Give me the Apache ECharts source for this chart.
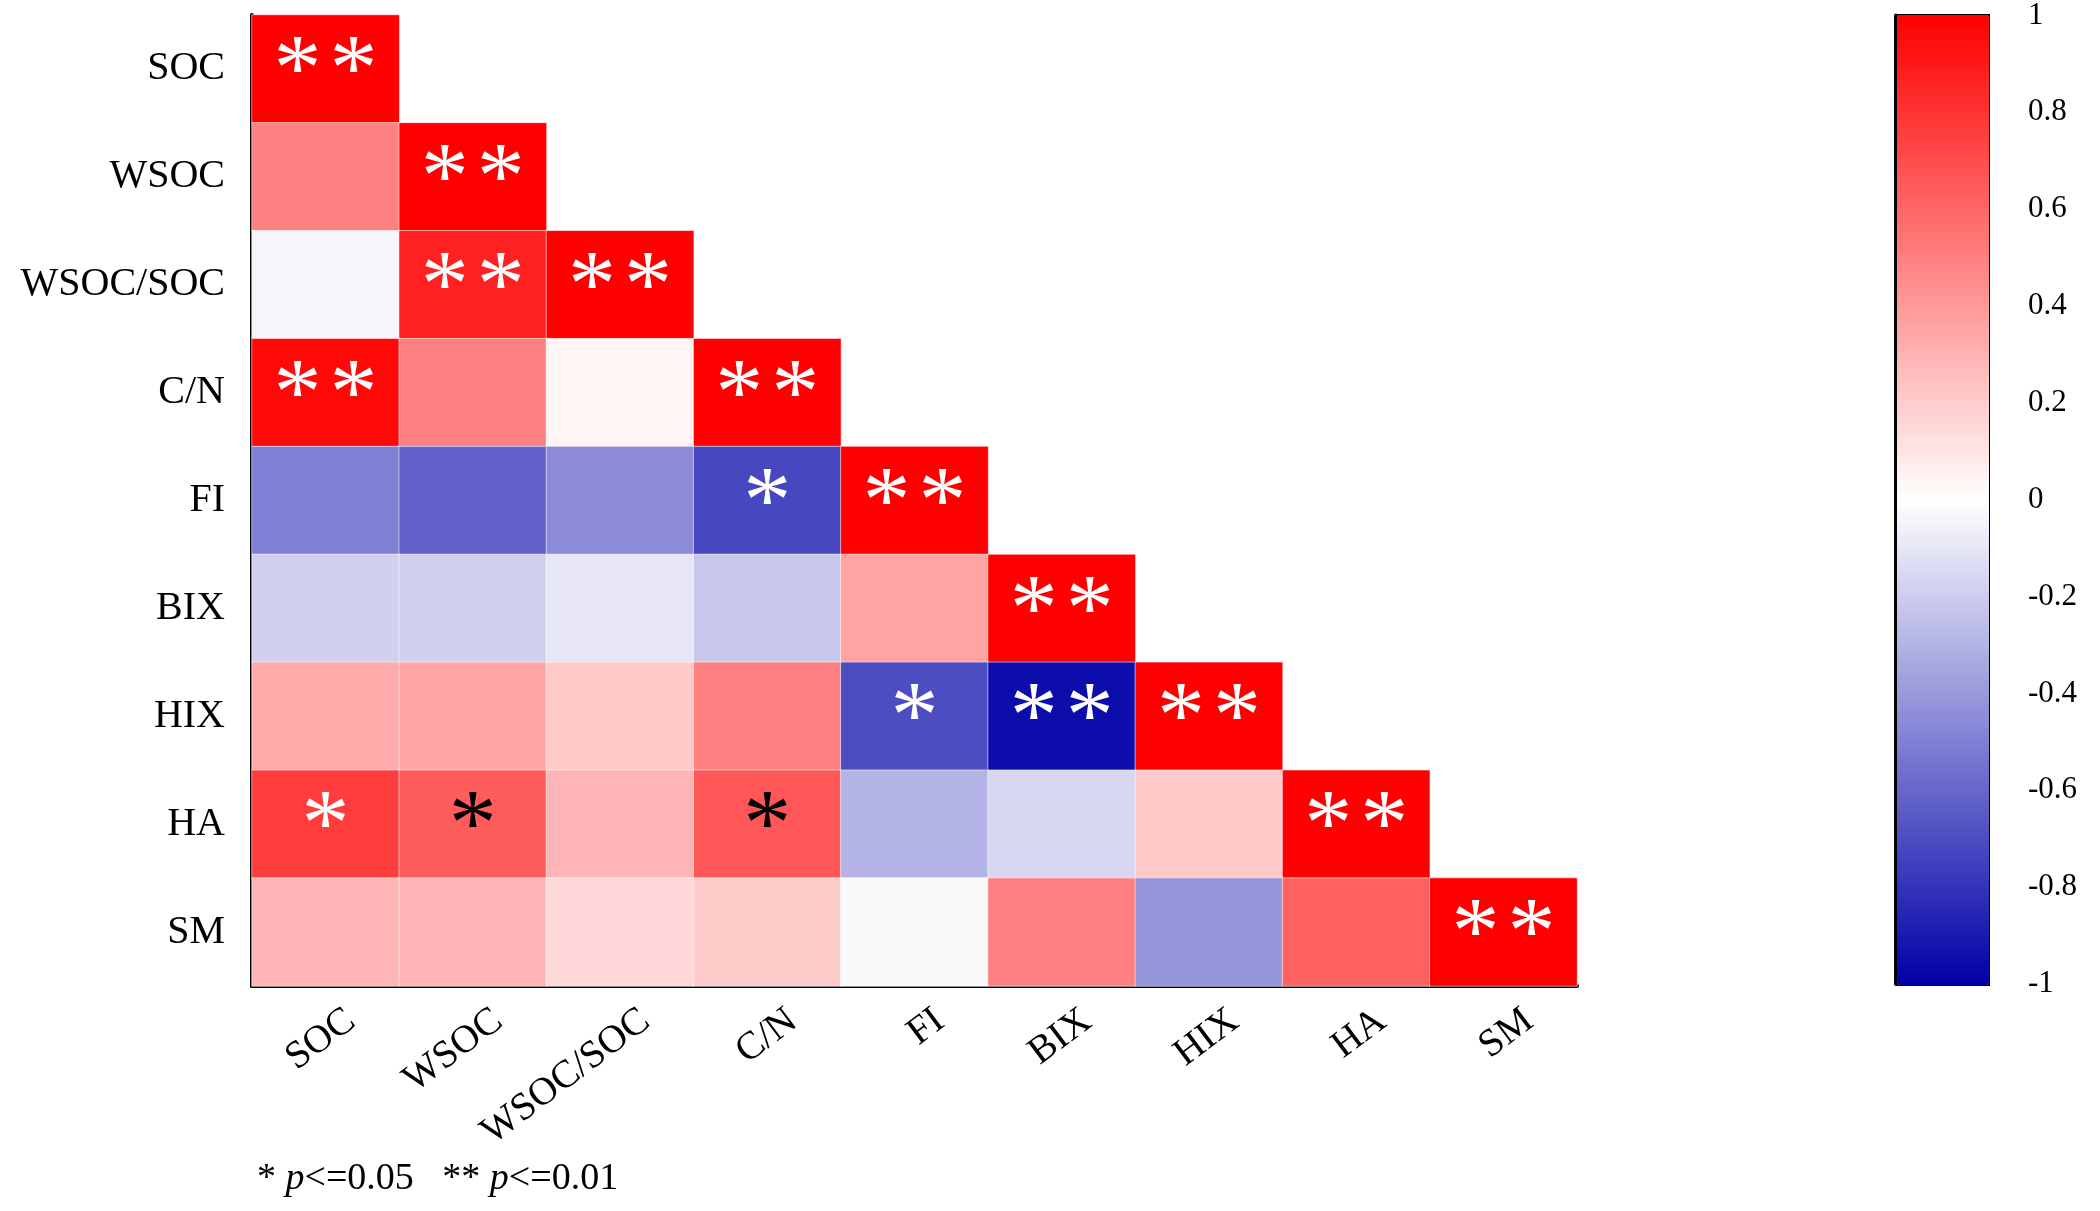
<!DOCTYPE html>
<html><head><meta charset="utf-8">
<script src="https://cdn.jsdelivr.net/npm/echarts@6/dist/echarts.min.js"></script>
<style>html,body{margin:0;padding:0;background:#fff}#c{width:2100px;height:1211px}</style>
</head><body><div id="c"></div>
<script>
const labels = ['SOC','WSOC','WSOC/SOC','C/N','FI','BIX','HIX','HA','SM'];
// lower-triangle correlation rows (row i has i+1 values)
const rSOC   = [1];
const rWSOC  = [0.50, 1];
const rRatio = [-0.04, 0.87, 1];
const rCN    = [0.97, 0.50, 0.04, 1];
const rFI    = [-0.50, -0.62, -0.45, -0.72, 1];
const rBIX   = [-0.18, -0.19, -0.10, -0.22, 0.36, 1];
const rHIX   = [0.33, 0.35, 0.21, 0.50, -0.70, -0.95, 1];
const rHA    = [0.76, 0.64, 0.29, 0.66, -0.30, -0.16, 0.21, 1];
const rSM    = [0.29, 0.29, 0.15, 0.20, -0.02, 0.50, -0.42, 0.62, 1];
const corrRows = [rSOC, rWSOC, rRatio, rCN, rFI, rBIX, rHIX, rHA, rSM];
// significance marks
const sSOC   = ['**'];
const sWSOC  = ['', '**'];
const sRatio = ['', '**', '**'];
const sCN    = ['**', '', '', '**'];
const sFI    = ['', '', '', '*', '**'];
const sBIX   = ['', '', '', '', '', '**'];
const sHIX   = ['', '', '', '', '*', '**', '**'];
const sHA    = ['*', '*', '', '*', '', '', '', '**'];
const sSM    = ['', '', '', '', '', '', '', '', '**'];
const sigRows = [sSOC, sWSOC, sRatio, sCN, sFI, sBIX, sHIX, sHA, sSM];
// mark colour: cells whose asterisk is drawn in black
const blackMarks = [[7, 1], [7, 3]];

const data = [];
corrRows.forEach((row, i) => {
  row.forEach((v, j) => {
    const s = sigRows[i][j];
    const dark = blackMarks.some(m => m[0] === i && m[1] === j);
    data.push({
      value: [j, i, v, s],
      label: { color: dark ? '#000' : '#fff' }
    });
  });
});

const serif = '"Liberation Serif", "Times New Roman", serif';
const chart = echarts.init(document.getElementById('c'));
chart.setOption({
  animation: false,
  backgroundColor: '#fff',
  grid: [
    { left: 252, top: 15, width: 1325, height: 971 },
    { left: 1896, top: 14, width: 92, height: 970 }
  ],
  xAxis: [
    { type: 'category', data: labels, gridIndex: 0,
      axisLine: { lineStyle: { color: '#000', width: 4 } },
      axisTick: { show: false },
      axisLabel: { rotate: 37, fontFamily: serif, fontSize: 39, color: '#000', margin: 50,
        padding: [0, -32, 0, 0] },
      splitLine: { show: false } },
    { type: 'value', gridIndex: 1, show: false, min: 0, max: 1 }
  ],
  yAxis: [
    { type: 'category', data: labels, inverse: true, gridIndex: 0,
      axisLine: { lineStyle: { color: '#000', width: 4 } },
      axisTick: { show: false },
      axisLabel: { fontFamily: serif, fontSize: 40, color: '#000', margin: 27 },
      splitLine: { show: false } },
    { type: 'value', gridIndex: 1, position: 'right', min: -1, max: 1, interval: 0.2,
      axisLine: { show: true, lineStyle: { color: '#000', width: 4 } },
      axisTick: { show: true, inside: false, length: 25, lineStyle: { color: '#000', width: 2 } },
      axisLabel: { fontFamily: serif, fontSize: 31, color: '#000', margin: 40,
        formatter: v => String(Math.round(v * 10) / 10) },
      splitLine: { show: false } }
  ],
  visualMap: {
    type: 'continuous', min: -1, max: 1, seriesIndex: 0,
    calculable: false, dimension: 2,
    inRange: { color: ['#0000a8', '#ffffff', '#ff0000'] },
    orient: 'vertical', left: 1896, top: 14, itemWidth: 92, itemHeight: 970,
    padding: 0, borderColor: '#000', borderWidth: 2, text: null, hoverLink: false
  },
  series: [
    { type: 'heatmap', xAxisIndex: 0, yAxisIndex: 0, data: data,
      itemStyle: { borderColor: 'rgba(255,255,255,0.55)', borderWidth: 1 },
      label: { show: true, offset: [0, 6],
        formatter: p => p.value[3] ? p.value[3].split('').map(() => '{s|*}').join('') : '',
        rich: { s: { fontFamily: serif, fontSize: 96, padding: [0, 4] } } },
      emphasis: { disabled: true } }
  ],
  graphic: [
    { type: 'text', left: 257, top: 1160,
      style: { text: '{n|* }{i|p}{n|<=0.05   ** }{i|p}{n|<=0.01}',
        rich: { n: { fontFamily: serif, fontSize: 38, fill: '#000' },
                i: { fontFamily: serif, fontSize: 38, fontStyle: 'italic', fill: '#000' } } } }
  ]
});
</script></body></html>
